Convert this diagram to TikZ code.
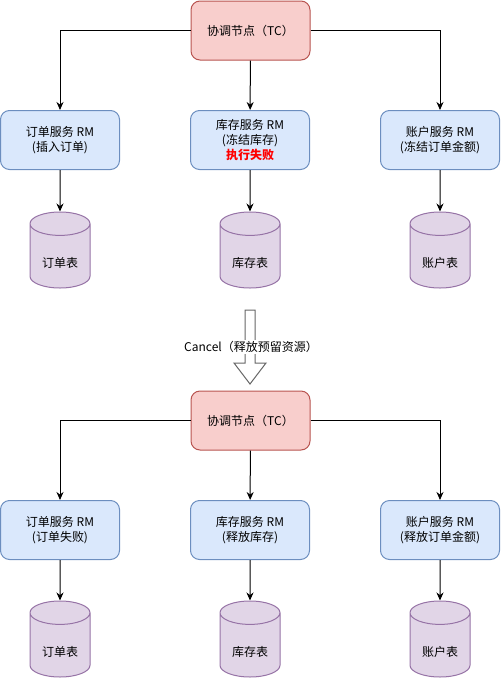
\documentclass[tikz,border=0pt]{standalone}
\usepackage{fontspec}
\setmainfont{Noto Sans CJK SC}
\usetikzlibrary{arrows.meta, positioning, shapes.geometric}

\definecolor{tcfill}{HTML}{F8CECC}
\definecolor{tcline}{HTML}{B85450}
\definecolor{rmfill}{HTML}{DAE8FC}
\definecolor{rmline}{HTML}{6C8EBF}
\definecolor{dbfill}{HTML}{E1D5E7}
\definecolor{dbline}{HTML}{9673A6}

\tikzset{
  box/.style   = {draw, rounded corners=9pt, minimum width=119pt, minimum height=59pt,
                  align=center, inner sep=0pt},
  coord/.style = {box, fill=tcfill, draw=tcline},
  rm/.style    = {box, fill=rmfill, draw=rmline},
  db/.style    = {cylinder, shape border rotate=90, aspect=.65, draw=dbline, fill=dbfill,
                  minimum width=60pt, minimum height=76pt, inner sep=0pt,
                  text height=26pt, text depth=3pt, anchor=shape center},
  link/.style  = {-{Stealth[length=8pt,width=7pt]}},
}

\begin{document}
\begin{tikzpicture}[x=1pt, y=-1pt, line width=1pt, font=\fontsize{12}{15}\selectfont]
	\useasboundingbox (0,0) rectangle (501,681);

	% try phase
	\node[coord] (tcA)      at (250.5, 30.5) {协调节点（TC）};
	\node[rm]    (orderA)   at ( 60,140) {订单服务 RM\\(插入订单)};
	\node[rm]    (stockA)   at (250,140) {库存服务 RM\\(冻结库存)\\{\color{red}\bfseries 执行失败}};
	\node[rm]    (accountA) at (440,140) {账户服务 RM\\(冻结订单金额)};
	\node[db]    (orderDbA)   at ( 60,250) {订单表};
	\node[db]    (stockDbA)   at (250,250) {库存表};
	\node[db]    (accountDbA) at (440,250) {账户表};
	\draw[link] (tcA.west) -| (orderA.north);
	\draw[link] (tcA) -- (stockA);
	\draw[link] (tcA.east) -| (accountA.north);
	\draw[link] (orderA) -- (orderDbA);
	\draw[link] (stockA) -- (stockDbA);
	\draw[link] (accountA) -- (accountDbA);

	% hollow arrow
	\draw[black!60, fill=white] (245,310) -- (255,310) -- (255,363) -- (266,363)
	      -- (250,384) -- (234,363) -- (245,363) -- cycle;
	\node[fill=white, inner sep=1pt] (cancel) at (251,347) {Cancel（释放预留资源）};

	% cancel phase
	\node[coord] (tcB)      at (250.5,420.5) {协调节点（TC）};
	\node[rm]    (orderB)   at ( 60,530) {订单服务 RM\\(订单失败)};
	\node[rm]    (stockB)   at (250,530) {库存服务 RM\\(释放库存)};
	\node[rm]    (accountB) at (440,530) {账户服务 RM\\(释放订单金额)};
	\node[db]    (orderDbB)   at ( 60,639) {订单表};
	\node[db]    (stockDbB)   at (250,639) {库存表};
	\node[db]    (accountDbB) at (440,639) {账户表};
	\draw[link] (tcB.west) -| (orderB.north);
	\draw[link] (tcB) -- (stockB);
	\draw[link] (tcB.east) -| (accountB.north);
	\draw[link] (orderB) -- (orderDbB);
	\draw[link] (stockB) -- (stockDbB);
	\draw[link] (accountB) -- (accountDbB);
\end{tikzpicture}
\end{document}
